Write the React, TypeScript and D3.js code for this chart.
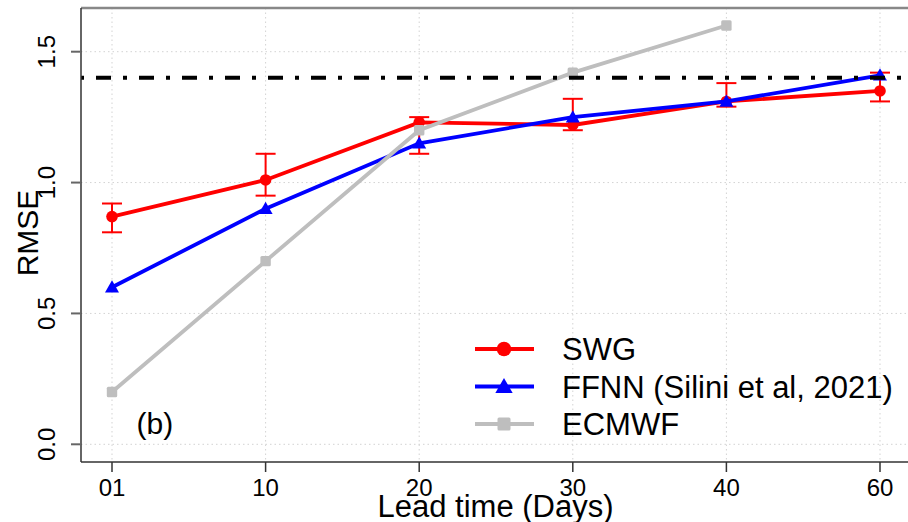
import React from "react";
import * as d3 from "d3";

const categories = ["01", "10", "20", "30", "40", "60"];
const swg = [0.87, 1.01, 1.23, 1.22, 1.31, 1.35];
const swgLow = [0.81, 0.95, 1.11, 1.2, 1.29, 1.31];
const swgHigh = [0.92, 1.11, 1.25, 1.32, 1.38, 1.42];
const ffnn = [0.6, 0.9, 1.15, 1.25, 1.31, 1.41];
const ecmwfCats = ["01", "10", "20", "30", "40"];
const ecmwf = [0.2, 0.7, 1.2, 1.42, 1.6];
const threshold = 1.4;
const yTicks = [0, 0.5, 1.0, 1.5];
const yTickLabels = ["0.0", "0.5", "1.0", "1.5"];
const legendLabels = ["SWG", "FFNN (Silini et al, 2021)", "ECMWF"];

const W = 908;
const H = 522;
const plot = { left: 81, top: 8, right: 910, bottom: 462 };
const FONT = "'Liberation Sans', Arial, Helvetica, sans-serif";

const RED = "#FF0000";
const BLUE = "#0000FF";
const GREY = "#BEBEBE";

export default function App() {
  const x = d3.scalePoint<string>().domain(categories).range([112, 880]);
  const y = d3.scaleLinear().domain([0, 1.5]).range([444.3, 51.7]);

  const line = d3
    .line<[string, number]>()
    .x((d) => x(d[0]) as number)
    .y((d) => y(d[1]));

  const swgPts: [string, number][] = categories.map((c, i) => [c, swg[i]]);
  const ffnnPts: [string, number][] = categories.map((c, i) => [c, ffnn[i]]);
  const ecPts: [string, number][] = ecmwfCats.map((c, i) => [c, ecmwf[i]]);

  const triSmall = d3.symbol().type(d3.symbolTriangle).size(85)() as string;
  const triBig = d3.symbol().type(d3.symbolTriangle).size(130)() as string;

  const legendRows = [349, 386.5, 424];
  const legendColors = [RED, BLUE, GREY];

  const marker = (k: number, cx: number, cy: number, big: boolean, key?: string) => {
    const s = big ? 1.25 : 1;
    if (k === 0) return <circle key={key} cx={cx} cy={cy} r={5.8 * s} fill={RED} />;
    if (k === 1)
      return (
        <path key={key} d={big ? triBig : triSmall} transform={`translate(${cx},${cy + 1.2 * s})`} fill={BLUE} />
      );
    const h = 5.2 * s;
    return <rect key={key} x={cx - h} y={cy - h} width={2 * h} height={2 * h} rx={1.5} fill={GREY} />;
  };

  return (
    <svg
      width={W}
      height={H}
      style={{ position: "absolute", left: 0, top: 0, background: "#fff" }}
      fontFamily={FONT}
    >
      <defs>
        <clipPath id="plotclip">
          <rect x={plot.left} y={plot.top} width={plot.right - plot.left} height={plot.bottom - plot.top} />
        </clipPath>
      </defs>
      {/* grid */}
      <g stroke="#d3d3d3" strokeWidth={1} strokeDasharray="1.5,3">
        {categories.map((c) => (
          <line key={c} x1={x(c)} x2={x(c)} y1={plot.top} y2={plot.bottom} />
        ))}
        {yTicks.map((t) => (
          <line key={t} x1={plot.left} x2={plot.right} y1={y(t)} y2={y(t)} />
        ))}
      </g>

      <g clipPath="url(#plotclip)">
        {/* SWG */}
        <path d={line(swgPts) as string} fill="none" stroke={RED} strokeWidth={3.8} />
        <g stroke={RED} strokeWidth={2}>
          {categories.map((c, i) => {
            const cx = x(c) as number;
            return (
              <g key={c}>
                <line x1={cx} x2={cx} y1={y(swgLow[i])} y2={y(swgHigh[i])} />
                <line x1={cx - 10} x2={cx + 10} y1={y(swgLow[i])} y2={y(swgLow[i])} />
                <line x1={cx - 10} x2={cx + 10} y1={y(swgHigh[i])} y2={y(swgHigh[i])} />
              </g>
            );
          })}
        </g>
        {swgPts.map((d, i) => marker(0, x(d[0]) as number, y(d[1]), false, "s" + i))}

        {/* FFNN */}
        <path d={line(ffnnPts) as string} fill="none" stroke={BLUE} strokeWidth={3.8} />
        {ffnnPts.map((d, i) => marker(1, x(d[0]) as number, y(d[1]), false, "f" + i))}

        {/* ECMWF */}
        <path d={line(ecPts) as string} fill="none" stroke={GREY} strokeWidth={3.8} />
        {ecPts.map((d, i) => marker(2, x(d[0]) as number, y(d[1]), false, "e" + i))}

        {/* threshold */}
        <line
          x1={plot.left}
          x2={plot.right}
          y1={y(threshold)}
          y2={y(threshold)}
          stroke="#000"
          strokeWidth={4}
          strokeDasharray="15,12,4,12"
          strokeDashoffset={28}
        />
      </g>

      {/* frame */}
      <line x1={plot.left} x2={plot.right} y1={plot.top} y2={plot.top} stroke="#888" strokeWidth={2.5} />
      <line x1={plot.left} x2={plot.left} y1={plot.top} y2={plot.bottom} stroke="#333" strokeWidth={1.5} />
      <line x1={plot.left} x2={plot.right} y1={plot.bottom} y2={plot.bottom} stroke="#333" strokeWidth={1.5} />

      {/* y axis */}
      {yTicks.map((t, i) => (
        <g key={t}>
          <line x1={71} x2={plot.left} y1={y(t)} y2={y(t)} stroke="#666" strokeWidth={2} />
          <text
            transform={`translate(55,${y(t)}) rotate(-90)`}
            textAnchor="middle"
            fontSize={24}
            fill="#000"
          >
            {yTickLabels[i]}
          </text>
        </g>
      ))}
      <text transform={`translate(38,233) rotate(-90)`} textAnchor="middle" fontSize={30} fill="#000">
        RMSE
      </text>

      {/* x axis */}
      {categories.map((c) => (
        <g key={c}>
          <line x1={x(c)} x2={x(c)} y1={plot.bottom} y2={472} stroke="#333" strokeWidth={1.5} />
          <text x={x(c)} y={496} textAnchor="middle" fontSize={24} fill="#000">
            {c}
          </text>
        </g>
      ))}
      <text x={495.5} y={516.5} textAnchor="middle" fontSize={31} fill="#000">
        Lead time (Days)
      </text>

      {/* panel label */}
      <text x={136.5} y={434} fontSize={30} fill="#000">
        (b)
      </text>

      {/* legend */}
      {legendLabels.map((l, k) => (
        <g key={l}>
          <line x1={475} x2={534} y1={legendRows[k]} y2={legendRows[k]} stroke={legendColors[k]} strokeWidth={3.8} />
          {marker(k, 504, legendRows[k], true)}
          <text x={562} y={legendRows[k] + 11} fontSize={31} fill="#000">
            {l}
          </text>
        </g>
      ))}
    </svg>
  );
}
